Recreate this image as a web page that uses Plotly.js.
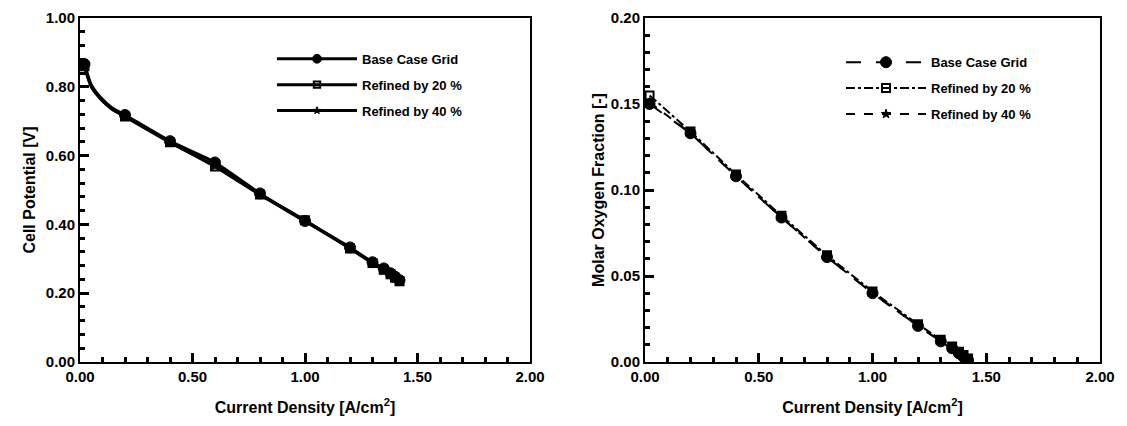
<!DOCTYPE html>
<html>
<head>
<meta charset="utf-8">
<script src="https://cdn.plot.ly/plotly-3.0.1.min.js"></script>
<style>html,body{margin:0;padding:0;background:#fff;}#chart{width:1127px;height:426px;}</style>
</head>
<body>
<div id="chart"></div>
<script>
const seriesNames = ["Base Case Grid", "Refined by 20 %", "Refined by 40 %"];
const leftX = [0.02, 0.05, 0.09, 0.14, 0.2, 0.4, 0.6, 0.8, 1.0, 1.2, 1.3, 1.35, 1.38, 1.4, 1.42];
const leftBase = [0.866, 0.806, 0.770, 0.740, 0.718, 0.642, 0.580, 0.490, 0.410, 0.333, 0.290, 0.272, 0.258, 0.248, 0.238];
const leftRef20 = [0.860, 0.802, 0.767, 0.737, 0.714, 0.639, 0.568, 0.487, 0.412, 0.330, 0.288, 0.268, 0.255, 0.245, 0.235];
const leftRef40 = [0.858, 0.800, 0.766, 0.736, 0.713, 0.638, 0.570, 0.486, 0.409, 0.330, 0.287, 0.266, 0.253, 0.243, 0.233];
const leftMarkedX = [0.02, 0.2, 0.4, 0.6, 0.8, 1.0, 1.2, 1.3, 1.35, 1.38, 1.4, 1.42];

const rightX = [0.02, 0.2, 0.4, 0.6, 0.8, 1.0, 1.2, 1.3, 1.35, 1.38, 1.4, 1.42];
const rightBase = [0.150, 0.133, 0.108, 0.084, 0.061, 0.040, 0.021, 0.012, 0.008, 0.005, 0.003, 0.001];
const rightRef20 = [0.155, 0.134, 0.109, 0.085, 0.062, 0.041, 0.022, 0.013, 0.009, 0.006, 0.004, 0.002];
const rightRef40 = [0.151, 0.133, 0.108, 0.084, 0.061, 0.040, 0.021, 0.012, 0.008, 0.005, 0.003, 0.001];

const xRange = [0, 2], xMajor = 0.5, xMinor = 0.1;
const leftYRange = [0, 1.0], leftYMajor = 0.2, leftYMinor = 0.04;
const rightYRange = [0, 0.2], rightYMajor = 0.05, rightYMinor = 0.01;

const FONT = "'Liberation Sans', Arial, sans-serif";
const markerStyles = [
  {symbol: "circle", size: 11, color: "#000", line: {color: "#000", width: 1}},
  {symbol: "square-open", size: 8, color: "#000", line: {color: "#000", width: 2}},
  {symbol: "star", size: 7, color: "#000", line: {color: "#000", width: 1}}
];
function sizes(xs, marked, s) {
  return xs.map(v => marked.some(m => Math.abs(m - v) < 1e-9) ? s : 0);
}

const traces = [];
[leftBase, leftRef20, leftRef40].forEach((ys, i) => {
  const ms = markerStyles[i];
  traces.push({
    x: leftX, y: ys, type: "scatter", mode: "lines+markers",
    name: seriesNames[i], xaxis: "x", yaxis: "y", legend: "legend", legendgroup: "L" + i,
    line: {color: "#000", width: 3, shape: "spline", smoothing: 0.6},
    marker: {symbol: ms.symbol, size: sizes(leftX, leftMarkedX, ms.size), color: ms.color, line: ms.line, opacity: 1}
  });
});
const rightDash = ["longdash", "dashdot", "dash"];
[rightBase, rightRef20, rightRef40].forEach((ys, i) => {
  const ms = markerStyles[i];
  traces.push({
    x: rightX, y: ys, type: "scatter", mode: "lines+markers",
    name: seriesNames[i], xaxis: "x2", yaxis: "y2", legend: "legend2", legendgroup: "R" + i,
    line: {color: "#000", width: 2, dash: rightDash[i]},
    marker: {symbol: ms.symbol, size: ms.size, color: ms.color, line: ms.line, opacity: 1}
  });
});

const tf = {family: FONT, size: 15, color: "#000", weight: "bold"};
const ttf = {family: FONT, size: 16, color: "#000", weight: "bold"};
const xTitle = "Current Density [A/cm<sup>2</sup>]";

function axis(domain, anchor, range, major, minor, title, standoff) {
  return {
    domain: domain, anchor: anchor, range: range, showgrid: false, zeroline: false,
    showline: true, linecolor: "#000", linewidth: 2, mirror: true,
    ticks: "inside", ticklen: 9, tickwidth: 3, tickcolor: "#000",
    tickmode: "linear", tick0: 0, dtick: major, tickformat: ".2f", tickfont: tf,
    minor: {ticks: "inside", ticklen: 5, tickwidth: 3, tickcolor: "#000", dtick: minor, tick0: 0},
    title: {text: title, font: ttf, standoff: standoff}
  };
}

const legendFont = {family: FONT, size: 13, color: "#000", weight: "bold"};
const layout = {
  width: 1127, height: 426,
  margin: {l: 0, r: 0, t: 18, b: 64},
  paper_bgcolor: "#fff", plot_bgcolor: "#fff",
  showlegend: true,
  xaxis: axis([80/1127, 530/1127], "y", xRange, xMajor, xMinor, xTitle, 18),
  yaxis: axis([0, 1], "x", leftYRange, leftYMajor, leftYMinor, "Cell Potential [V]", 6),
  xaxis2: axis([645/1127, 1100/1127], "y2", xRange, xMajor, xMinor, xTitle, 18),
  yaxis2: axis([0, 1], "x2", rightYRange, rightYMajor, rightYMinor, "Molar Oxygen Fraction [-]", 2),
  legend: {font: legendFont, bgcolor: "rgba(0,0,0,0)", traceorder: "grouped", tracegroupgap: 6, itemwidth: 80,
    xanchor: "left", yanchor: "top", x: 272/1127, y: 0.925},
  legend2: {font: legendFont, bgcolor: "rgba(0,0,0,0)", traceorder: "grouped", tracegroupgap: 6, itemwidth: 80,
    xanchor: "left", yanchor: "top", x: 841/1127, y: 0.915}
};

Plotly.newPlot("chart", traces, layout, {displayModeBar: false});
</script>
</body>
</html>
